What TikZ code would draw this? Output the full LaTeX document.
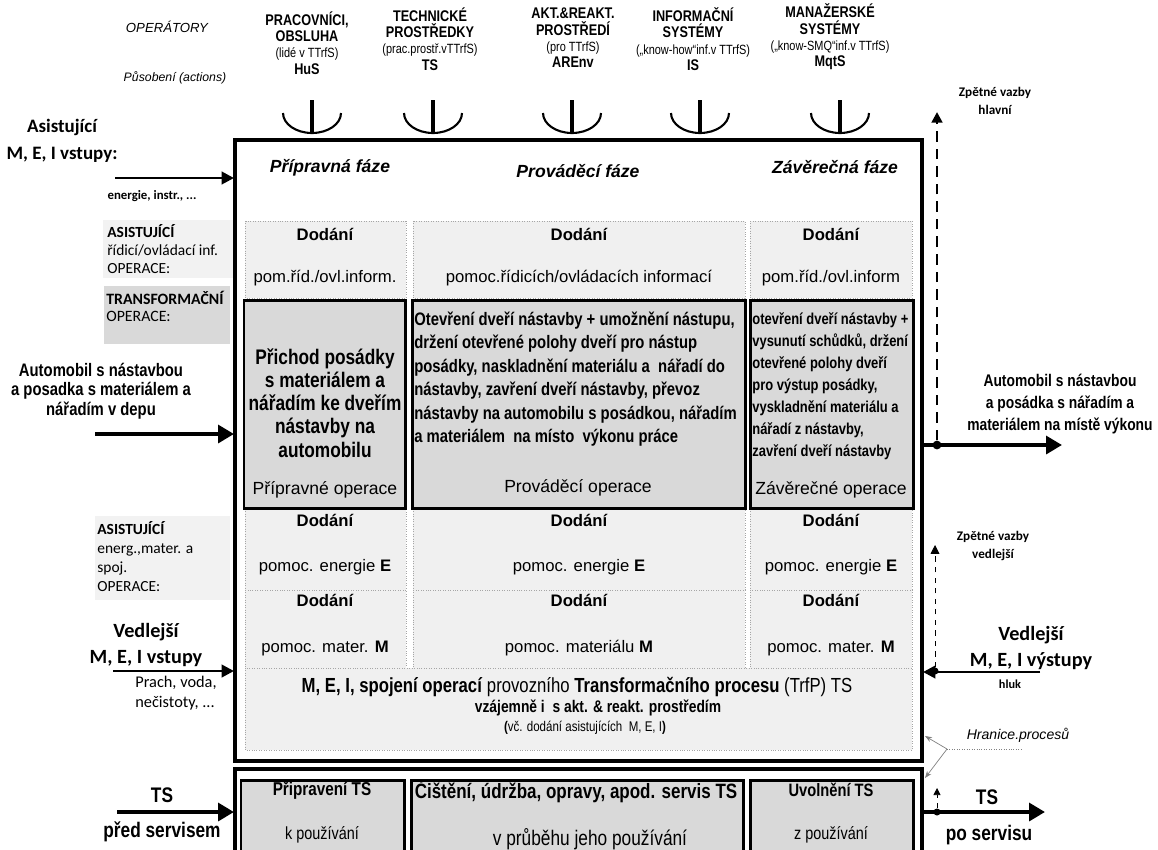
\documentclass[tikz,border=0pt]{standalone}
\usepackage{fontspec}
\setmainfont{Liberation Sans}
\newfontfamily\narrowsf[FakeStretch=0.82]{Liberation Sans}
\newfontfamily\calibsf{Carlito}
\usetikzlibrary{arrows.meta}

\newcommand{\fs}[2]{\fontsize{#1}{#2}\selectfont}

\tikzset{
  txt/.style={inner sep=0pt, align=center},
  oper/.style={txt, font=\narrowsf\bfseries\fs{8.8}{9.3}},
  phase/.style={txt, font=\bfseries\itshape\fs{10}{12}},
  dodbox/.style={draw=gray!70, densely dotted, fill=gray!12},
  trfbox/.style={draw=black, line width=1.7pt, fill=gray!30},
  mainbox/.style={draw=black, line width=2pt},
  dod/.style={txt, font=\bfseries\fs{9.5}{11}},
  pom/.style={txt, font=\fs{9.5}{11}},
  arr/.style={line width=1.6pt, -{Triangle[length=7pt,width=7pt]}},
  bigarrow/.style={line width=2.8pt, -{Triangle[length=9pt,width=10pt]}},
  dotnode/.style={circle, fill=black, inner sep=0pt, minimum size=5pt},
}

\begin{document}
\begin{tikzpicture}[x={(0.02cm,0cm)}, y={(0cm,-0.02cm)}]
\useasboundingbox (0,0) rectangle (1158,849);
\clip (0,0) rectangle (1158,849);

% operators on top
\node[txt, font=\itshape\fs{7.5}{9}] (opr) at (167,27) {OPERÁTORY};
\node[txt, font=\itshape\fs{7}{9}] (act) at (175,78) {Působení (actions)};
\node[oper] (hus) at (307,43) {PRACOVNÍCI,\\OBSLUHA\\{\mdseries\fs{7.6}{8}(lidé v TTrfS)}\\HuS};
\node[oper] (ts) at (430,39) {TECHNICKÉ\\PROSTŘEDKY\\{\mdseries\fs{7.6}{8}(prac.prostř.vTTrfS)}\\TS};
\node[oper] (arenv) at (573,38) {AKT.\&REAKT.\\PROSTŘEDÍ\\{\mdseries\fs{7.6}{8}(pro TTrfS)}\\AREnv};
\node[oper] (is) at (693,39) {INFORMAČNÍ\\SYSTÉMY\\{\mdseries\fs{7.6}{8}(„know-how“inf.v TTrfS)}\\IS};
\node[oper] (mgts) at (830,37) {MANAŽERSKÉ\\SYSTÉMY\\{\mdseries\fs{7.6}{8}(„know-SMQ“inf.v TTrfS)}\\MqtS};

\foreach \cx in {312,433,572,700,840} {
  \draw[line width=1.8pt] (\cx,100) -- (\cx,133);
  \draw[line width=1.2pt] (\cx-29,113) arc[start angle=180, end angle=360, x radius=0.58cm, y radius=0.4cm];
}

% main process box
\draw[mainbox] (235,140) rectangle (922,761);

\node[phase] (ph1) at (330,168) {Přípravná fáze};
\node[phase] (ph2) at (578,171) {Prováděcí fáze};
\node[phase] (ph3) at (835,167) {Závěrečná fáze};

% supply of control information
\foreach \a/\b in {245/406, 413/745, 750/912} {
  \draw[dodbox] (\a,221) rectangle (\b,298);
  \draw[dodbox] (\a,509) rectangle (\b,590);
  \draw[dodbox] (\a,590) rectangle (\b,668);
}
\node[dod] (d1) at (325,234) {Dodání};
\node[pom] (p1) at (325,278) {pom.říd./ovl.inform.};
\node[dod] (d2) at (579,234) {Dodání};
\node[pom] (p2) at (579,278) {pomoc.řídicích/ovládacích informací};
\node[dod] (d3) at (831,234) {Dodání};
\node[pom] (p3) at (831,278) {pom.říd./ovl.inform};

% transformation operations
\draw[trfbox] (244,300) rectangle (405,508);
\draw[trfbox] (412,300) rectangle (745,508);
\draw[trfbox] (750,300) rectangle (913,508);

\node[txt, font=\narrowsf\bfseries\fs{12}{13.2}] (t1) at (325,403)
  {Přichod posádky\\s materiálem a\\nářadím ke dveřím\\nástavby na\\automobilu};
\node[pom, font=\fs{10}{12}] (o1) at (325,490) {Přípravné operace};
\node[txt, align=left, anchor=west, font=\narrowsf\bfseries\fs{10.3}{13.4}] (t2) at (414,379)
  {Otevření dveří nástavby + umožnění nástupu,\\
   držení otevřené polohy dveří pro nástup\\
   posádky, naskladnění materiálu a\ \ nářadí do\\
   nástavby, zavření dveří nástavby, převoz\\
   nástavby na automobilu s posádkou, nářadím\\
   a materiálem\ \ na místo\ \ výkonu práce};
\node[pom, font=\fs{10}{12}] (o2) at (578,488) {Prováděcí operace};
\node[txt, align=left, anchor=west, font=\narrowsf\bfseries\fs{9}{12.5}] (t3) at (752,386)
  {otevření dveří nástavby +\\vysunutí schůdků, držení\\otevřené polohy dveří\\pro výstup posádky,\\vyskladnění materiálu a\\nářadí z nástavby,\\zavření dveří nástavby};
\node[pom, font=\fs{10}{12}] (o3) at (831,490) {Závěrečné operace};

% supply of energy and material
\node[dod] (de1) at (325,520) {Dodání};
\node[pom] (pe1) at (325,567) {pomoc. energie \textbf{E}};
\node[dod] (de2) at (579,520) {Dodání};
\node[pom] (pe2) at (579,567) {pomoc. energie \textbf{E}};
\node[dod] (de3) at (831,520) {Dodání};
\node[pom] (pe3) at (831,567) {pomoc. energie \textbf{E}};
\node[dod] (dm1) at (325,600) {Dodání};
\node[pom] (pm1) at (325,648) {pomoc. mater. \textbf{M}};
\node[dod] (dm2) at (579,600) {Dodání};
\node[pom] (pm2) at (579,648) {pomoc. materiálu \textbf{M}};
\node[dod] (dm3) at (831,600) {Dodání};
\node[pom] (pm3) at (831,648) {pomoc. mater. \textbf{M}};

\draw[dodbox] (245,668) rectangle (912,750);
\node[txt, font=\narrowsf\fs{11.6}{13}] (sp1) at (577,687)
  {\textbf{M, E, I, spojení operací} provozního \textbf{Transformačního procesu} (TrfP) TS};
\node[txt, font=\narrowsf\bfseries\fs{9.6}{12}] (sp2) at (598,708) {vzájemně i\ \ s akt. \& reakt. prostředím};
\node[txt, font=\narrowsf\fs{8}{10}] (sp3) at (585,728) {\textbf{(}vč. dodání asistujících\ \ M, E, I\textbf{)}};

% left side inputs
\node[txt, font=\calibsf\bfseries\fs{10.8}{15.4}] (asin) at (62,141) {Asistující\\M, E, I vstupy:};
\coordinate (asinA) at (115,178);
\coordinate (asinB) at (234,178);
\draw[arr] (asinA) -- (asinB);
\node[txt, font=\calibsf\bfseries\fs{7.3}{8}] (asinl) at (152,196) {energie, instr., ...};

\fill[gray!10] (103,220) rectangle (233,278);
\node[txt, align=left, anchor=north west, font=\calibsf\fs{8.8}{10.2}] (lrid) at (107,224)
  {\textbf{ASISTUJÍCÍ}\\řídicí/ovládací inf.\\OPERACE:};
\fill[gray!30] (104,286) rectangle (230,344);
\node[txt, align=left, anchor=north west, font=\calibsf\fs{9}{9.7}] (ltrf) at (106,291)
  {\textbf{TRANSFORMAČNÍ}\\OPERACE:};

\node[txt, font=\narrowsf\bfseries\fs{10.3}{11}] (carin) at (101,391)
  {Automobil s nástavbou\\a posadka s materiálem a\\nářadím v depu};
\coordinate (carA) at (95,434);
\coordinate (carB) at (234,434);
\draw[bigarrow] (carA) -- (carB);

\fill[gray!10] (95,516) rectangle (230,600);
\node[txt, align=left, anchor=north west, font=\calibsf\fs{8.8}{10.8}] (lenm) at (97,521)
  {\textbf{ASISTUJÍCÍ}\\energ.,mater. a\\spoj.\\OPERACE:};

\node[txt, font=\calibsf\bfseries\fs{11.5}{14.8}] (vin) at (146,645) {Vedlejší\\M, E, I vstupy};
\coordinate (vinA) at (113,671);
\coordinate (vinB) at (234,671);
\draw[arr] (vinA) -- (vinB);
\node[txt, align=left, anchor=north west, font=\calibsf\fs{9.3}{11.4}] (vinl) at (135,676)
  {Prach, voda,\\nečistoty, ...};

% right side outputs
\node[dotnode] (dot1) at (937,445) {};
\coordinate (fbtop) at (937,112);
\draw[line width=1.6pt, dash pattern=on 6pt off 4pt, -{Triangle[length=6pt,width=6pt]}] (dot1) -- (fbtop);
\node[txt, font=\calibsf\bfseries\fs{7.5}{10}] (fbh) at (995,101) {Zpětné vazby\\hlavní};
\coordinate (outA) at (922,445);
\coordinate (outB) at (1062,445);
\draw[bigarrow] (outA) -- (outB);
\node[txt, font=\narrowsf\bfseries\fs{9.6}{12.5}] (carout) at (1060,404)
  {Automobil s nástavbou\\a posádka s nářadím a\\materiálem na místě výkonu};

\node[dotnode, minimum size=4pt] (dot2) at (935,671) {};
\coordinate (fbvtop) at (935,545);
\draw[thin, dashed, -{Triangle[length=5pt,width=5pt]}] (dot2) -- (fbvtop);
\node[txt, font=\calibsf\bfseries\fs{7.5}{10}] (fbv) at (993,546) {Zpětné vazby\\vedlejší};
\node[txt, font=\calibsf\bfseries\fs{11.5}{14.8}] (vout) at (1031,648) {Vedlejší\\M, E, I výstupy};
\coordinate (voutA) at (1040,672);
\coordinate (voutB) at (923,672);
\draw[arr] (voutA) -- (voutB);
\node[txt, font=\calibsf\bfseries\fs{7}{8}] (hluk) at (1010,684) {hluk};

\node[txt, font=\itshape\fs{8}{10}] (hran) at (1018,735) {Hranice.procesů};
\coordinate (hr) at (947,749);
\draw[gray, thin, -{Stealth[length=4pt,width=3pt]}] (hr) -- (925,736);
\draw[gray, thin, -{Stealth[length=4pt,width=3pt]}] (hr) -- (925,778);
\draw[gray, densely dotted] (hr) -- (1022,749);

% service of TS
\draw[mainbox] (235,769) rectangle (922,870);
\draw[trfbox] (241,780) rectangle (404,870);
\draw[trfbox] (411,780) rectangle (743,870);
\draw[trfbox] (750,780) rectangle (913,870);
\node[txt, font=\narrowsf\bfseries\fs{10.6}{11}] (sv1) at (322,790) {Připravení TS};
\node[txt, font=\narrowsf\fs{10}{11}] (sv1b) at (322,835) {k používání};
\node[txt, font=\narrowsf\bfseries\fs{11.8}{12}] (sv2) at (576,791) {Čištění, údržba, opravy, apod. servis TS};
\node[txt, font=\narrowsf\fs{12}{12}] (sv2b) at (590,839) {v průběhu jeho používání};
\node[txt, font=\narrowsf\bfseries\fs{10.2}{11}] (sv3) at (831,790) {Uvolnění TS};
\node[txt, font=\narrowsf\fs{10}{11}] (sv3b) at (831,835) {z používání};

\node[txt, font=\narrowsf\bfseries\fs{12}{13}] (tsin) at (162,795) {TS};
\node[txt, font=\narrowsf\bfseries\fs{12}{13}] (tsinl) at (162,832) {před servisem};
\coordinate (tsA) at (117,812);
\coordinate (tsB) at (234,812);
\draw[bigarrow] (tsA) -- (tsB);
\node[dotnode, minimum size=4pt] (dot3) at (937,812) {};
\coordinate (fbstop) at (937,788);
\draw[thin, dashed, -{Triangle[length=4pt,width=4pt]}] (dot3) -- (fbstop);
\coordinate (tsoA) at (922,812);
\coordinate (tsoB) at (1045,812);
\draw[bigarrow] (tsoA) -- (tsoB);
\node[txt, font=\narrowsf\bfseries\fs{12}{13}] (tsout) at (987,797) {TS};
\node[txt, font=\narrowsf\bfseries\fs{12}{13}] (tsoutl) at (989,835) {po servisu};

\end{tikzpicture}
\end{document}
